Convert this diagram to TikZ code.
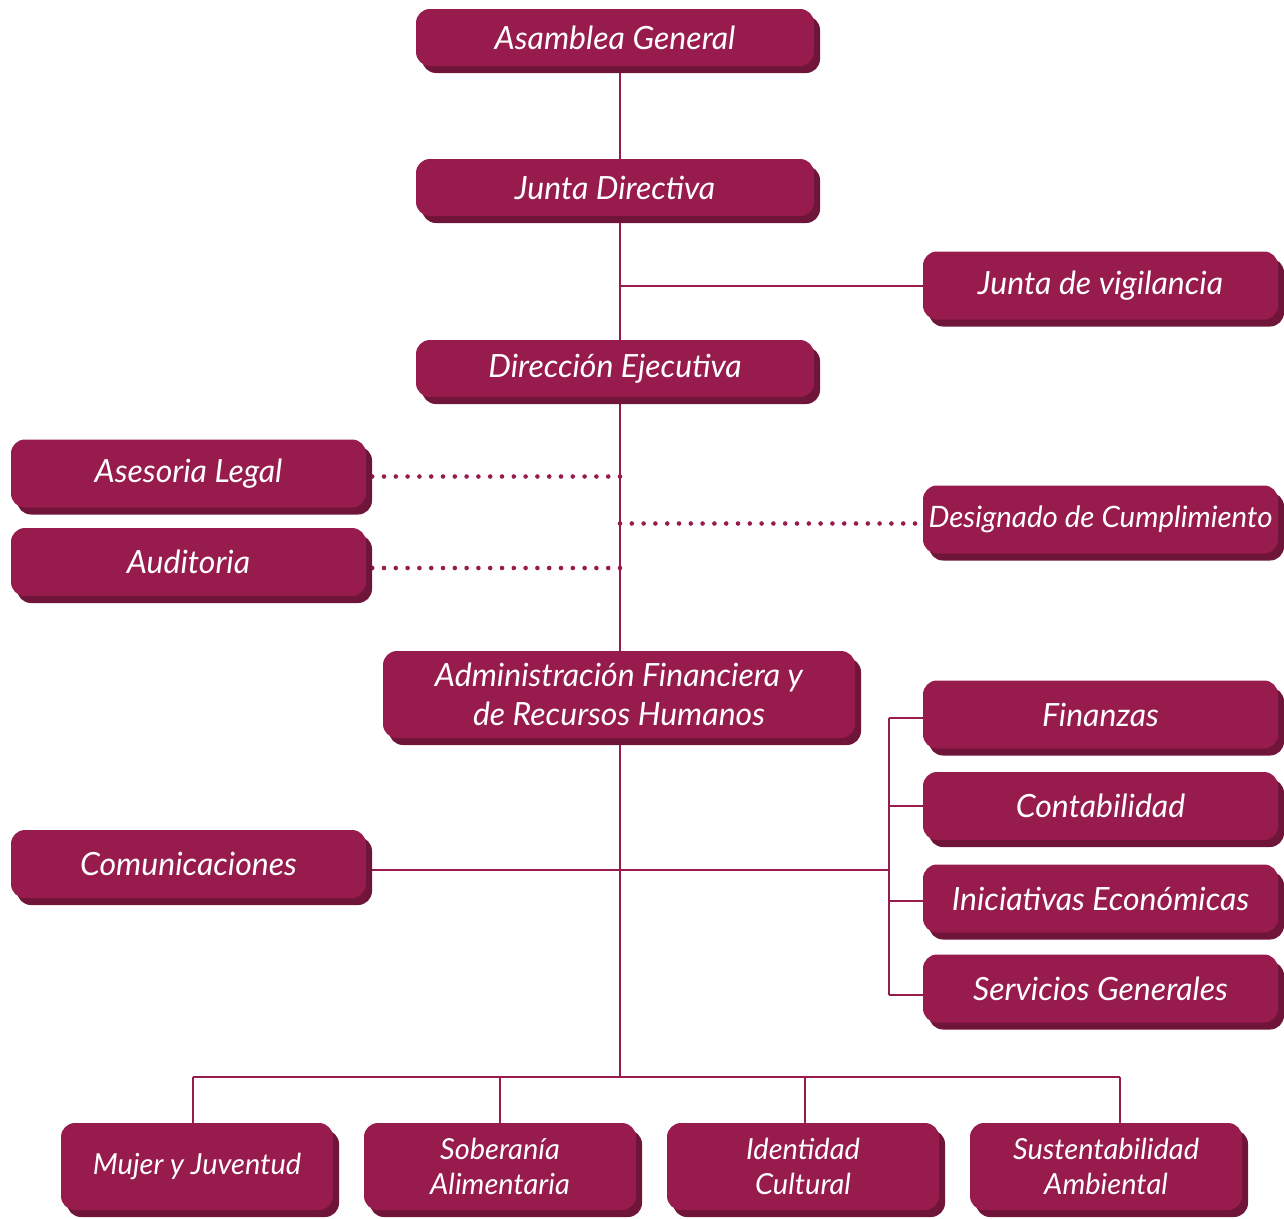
\documentclass[tikz,border=0pt]{standalone}
\usepackage{fontspec}
\setmainfont{Lato}
\usetikzlibrary{shadows,backgrounds}
\definecolor{vino}{HTML}{971B4C}
\definecolor{vinoshade}{HTML}{6E1539}
\tikzset{
  unit/.style={fill=vino, rounded corners=14pt, text=white, align=center, inner sep=0pt,
    font=\fontsize{32}{39}\selectfont\itshape,
    drop shadow={fill=vinoshade, opacity=1, shadow xshift=6pt, shadow yshift=-7pt}},
  wide/.style={unit, minimum width=398pt, minimum height=57pt},
  side/.style={unit, minimum width=355pt, minimum height=68pt},
  area/.style={unit, minimum width=272pt, minimum height=87pt, font=\fontsize{29}{35}\selectfont\itshape},
  link/.style={vino, line width=2pt},
  dots/.style={vino, line width=4.6pt, dash pattern=on 0pt off 11.8pt, line cap=round},
}
\begin{document}
\begin{tikzpicture}[x=1pt, y=-1pt]
    \useasboundingbox (0,0) rectangle (1284,1218);

    % Governing bodies
    \node[wide] (asamblea) at (615,37.5) {Asamblea General};
    \node[wide] (junta) at (615,187.5) {Junta Directiva};
    \node[side] (vigilancia) at (1100.5,285.5) {Junta de vigilancia};
    \node[wide] (direccion) at (615,368.5) {Dirección Ejecutiva};

    % Advisory units
    \node[side] (legal) at (188.5,473.5) {Asesoria Legal};
    \node[side] (auditoria) at (188.5,562) {Auditoria};
    \node[side, font=\fontsize{29.5}{33}\selectfont\itshape] (designado) at (1100.5,519.5) {Designado de Cumplimiento};

    % Administration
    \node[unit, minimum width=472pt, minimum height=87pt] (admin) at (619,694.5) {Administración Financiera y\\de Recursos Humanos};
    \node[side] (finanzas) at (1100.5,714.5) {Finanzas};
    \node[side] (contabilidad) at (1100.5,806) {Contabilidad};
    \node[side] (iniciativas) at (1100.5,898.5) {Iniciativas Económicas};
    \node[side] (servicios) at (1100.5,988.5) {Servicios Generales};
    \node[side] (comunicaciones) at (188.5,864) {Comunicaciones};

    % Program areas
    \node[area] (mujer) at (197,1166.5) {Mujer y Juventud};
    \node[area] (soberania) at (500,1166.5) {Soberanía\\Alimentaria};
    \node[area] (identidad) at (803,1166.5) {Identidad\\Cultural};
    \node[area] (sustentabilidad) at (1106,1166.5) {Sustentabilidad\\Ambiental};

    \coordinate (bus) at (620,1077);
    \coordinate (rail) at (889,870);
    \foreach \i/\x in {1/193, 2/500, 3/805, 4/1120}
        \coordinate (d\i) at (\x,1077);

    \begin{scope}[on background layer]
        % Trunk
        \draw[link] (asamblea.center -| bus) -- (bus);
        \draw[link] (vigilancia.west -| bus) -- (vigilancia.west);

        % Dotted links
        \draw[dots] ([shift={(6,3)}]legal.east) -- ([yshift=-3pt]legal.east -| bus);
        \draw[dots] ([shift={(6,6)}]auditoria.east) -- ([yshift=-6pt]auditoria.east -| bus);
        \draw[dots] ([yshift=-4pt]designado.west -| bus) -- ([yshift=-4pt]designado.west);

        % Administration branches
        \draw[link] (comunicaciones.east |- rail) -- (rail);
        \draw[link] ([yshift=-3pt]finanzas.west -| rail) -- ([yshift=-6pt]servicios.west -| rail);
        \draw[link] ([yshift=-3pt]finanzas.west -| rail) -- ([yshift=-3pt]finanzas.west);
        \draw[link] (contabilidad.west -| rail) -- (contabilidad.west);
        \draw[link] ([yshift=-2pt]iniciativas.west -| rail) -- ([yshift=-2pt]iniciativas.west);
        \draw[link] ([yshift=-6pt]servicios.west -| rail) -- ([yshift=-6pt]servicios.west);

        % Program area bus
        \draw[link] (d1) -- (d4);
        \draw[link] (d1) -- (d1 |- mujer.north);
        \draw[link] (d2) -- (d2 |- soberania.north);
        \draw[link] (d3) -- (d3 |- identidad.north);
        \draw[link] (d4) -- (d4 |- sustentabilidad.north);
    \end{scope}
\end{tikzpicture}
\end{document}
